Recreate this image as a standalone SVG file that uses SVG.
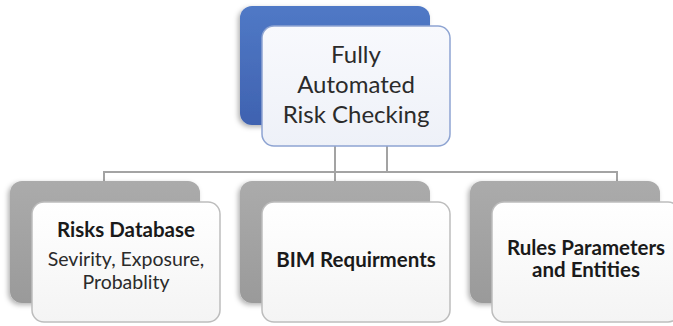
<svg xmlns="http://www.w3.org/2000/svg" width="673" height="326" viewBox="0 0 673 326">
  <defs>
    <linearGradient id="blueBack" x1="0" y1="0" x2="0" y2="1">
      <stop offset="0" stop-color="#5079c6"/>
      <stop offset="1" stop-color="#3f62b0"/>
    </linearGradient>
    <linearGradient id="grayBack" x1="0" y1="0" x2="0" y2="1">
      <stop offset="0" stop-color="#ababab"/>
      <stop offset="1" stop-color="#9a9a9a"/>
    </linearGradient>
    <linearGradient id="topFront" x1="0" y1="0" x2="0" y2="1">
      <stop offset="0" stop-color="#f8f9fd"/>
      <stop offset="1" stop-color="#eef1f8"/>
    </linearGradient>
    <linearGradient id="childFront" x1="0" y1="0" x2="0" y2="1">
      <stop offset="0" stop-color="#ffffff"/>
      <stop offset="1" stop-color="#f4f4f4"/>
    </linearGradient>
    <filter id="shadow" x="-10%" y="-10%" width="120%" height="125%">
      <feDropShadow dx="-2" dy="2" stdDeviation="2.5" flood-color="#000" flood-opacity="0.3"/>
    </filter>
  </defs>
  <style>
    .back-blue { fill: url(#blueBack); filter: url(#shadow); }
    .back-gray { fill: url(#grayBack); filter: url(#shadow); }
    .front-top { fill: url(#topFront); stroke: #8ea4d2; stroke-width: 1.5; }
    .front { fill: url(#childFront); stroke: #bdbdbd; stroke-width: 1.5; }
    .conn { fill: none; stroke: #a3a3a3; stroke-width: 2; }
    .title { font-family: Lato, "Open Sans", sans-serif; font-size: 24px; fill: #2b2b2b; text-anchor: middle; }
    .bold { font-family: Lato, "Open Sans", sans-serif; font-size: 20.5px; font-weight: bold; fill: #1a1a1a; text-anchor: middle; }
    .reg { font-family: Lato, "Open Sans", sans-serif; font-size: 19.5px; fill: #2b2b2b; text-anchor: middle; }
  </style>

  <rect width="673" height="326" fill="#ffffff"/>

  <!-- connectors -->
  <g id="connectors">
    <path class="conn" d="M335 146 V181"/>
    <path class="conn" d="M387 146 V172"/>
    <path class="conn" d="M104 181 V172 H617 V181"/>
  </g>

  <!-- root node -->
  <g id="node-root">
    <rect class="back-blue" x="240" y="6" width="190" height="119" rx="12"/>
    <rect class="front-top" x="262" y="26" width="188" height="120" rx="12"/>
    <text class="title" x="356" y="63">Fully</text>
    <text class="title" x="356" y="93">Automated</text>
    <text class="title" x="356" y="123">Risk Checking</text>
  </g>

  <!-- child: risks database -->
  <g id="node-risks">
    <rect class="back-gray" x="10" y="181" width="190" height="122" rx="12"/>
    <rect class="front" x="32" y="202" width="188" height="120" rx="12"/>
    <text class="bold" x="126" y="237">Risks Database</text>
    <text class="reg" x="126" y="266">Sevirity, Exposure,</text>
    <text class="reg" x="126" y="289">Probablity</text>
  </g>

  <!-- child: BIM requirements -->
  <g id="node-bim">
    <rect class="back-gray" x="240" y="181" width="190" height="122" rx="12"/>
    <rect class="front" x="262" y="202" width="188" height="120" rx="12"/>
    <text class="bold" x="356" y="267">BIM Requirments</text>
  </g>

  <!-- child: rules parameters -->
  <g id="node-rules">
    <rect class="back-gray" x="470" y="181" width="190" height="122" rx="12"/>
    <rect class="front" x="492" y="202" width="188" height="120" rx="12"/>
    <text class="bold" x="586" y="255">Rules Parameters</text>
    <text class="bold" x="586" y="277">and Entities</text>
  </g>
</svg>
